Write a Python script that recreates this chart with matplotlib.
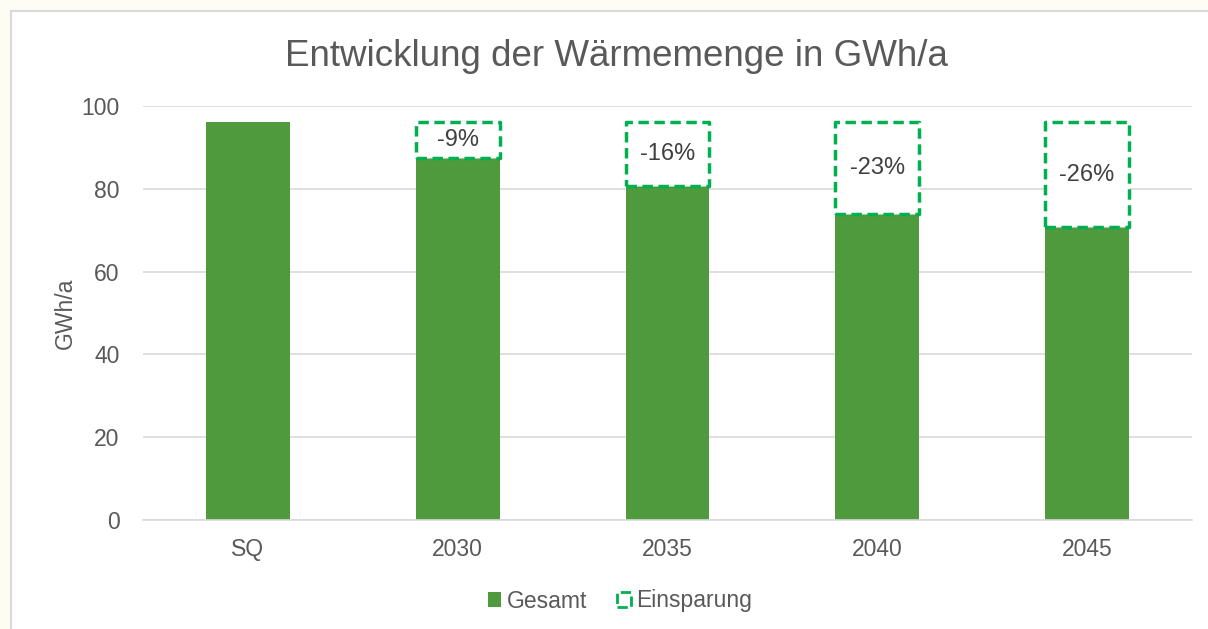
import numpy as np
import matplotlib.pyplot as plt
from matplotlib.patches import Patch, Rectangle

plt.rcParams['font.family'] = ['Liberation Sans', 'DejaVu Sans']

# Daten ──────────────────────────────────────────────
kategorien = ["SQ", "2030", "2035", "2040", "2045"]
gesamt     = [96.1, 87.4, 80.7, 73.9, 70.8]
einsparung = [0.0, 8.7, 15.4, 22.2, 25.3]
prozente   = ["", "-9%", "-16%", "-23%", "-26%"]

gruen  = "#4e9a3c"
strich = "#00b050"
grau   = "#595959"

fig = plt.figure(figsize=(12.08, 6.29), dpi=100, facecolor="#fdfdf4")
# weisser Rahmen
fig.patches.append(Rectangle((11/1208, -0.01), 1.01 - 11/1208, 1.01 - 11/629,
                             transform=fig.transFigure, facecolor="white",
                             edgecolor="#d9d9d9", lw=1.5, zorder=-10))

ax = fig.add_axes([143/1208, 1 - 520/629, (1192 - 143)/1208, (520 - 106)/629])
ax.set_facecolor("none")

x = np.arange(len(kategorien))
w = 0.4
ax.bar(x, gesamt, w, color=gruen, zorder=2, label="Gesamt")
for xi, g, e, p in zip(x, gesamt, einsparung, prozente):
    if e <= 0:
        continue
    ax.add_patch(Rectangle((xi - w/2, g), w, e, facecolor="white",
                           edgecolor=strich, lw=2.5, ls=(0, (3, 1.6)),
                           zorder=3, joinstyle="round"))
    ax.text(xi, g + e/2, p, ha="center", va="center", fontsize=17,
            color="#404040", zorder=4)

ax.set_xlim(-0.5, len(kategorien) - 0.5)
ax.set_ylim(0, 100)
ax.set_yticks(np.arange(0, 101, 20))
ax.set_xticks(x)
ax.set_xticklabels(kategorien)
ax.tick_params(axis="both", length=0, labelsize=16.5, colors=grau)
ax.tick_params(axis="x", pad=13)
ax.tick_params(axis="y", pad=17)
ax.grid(True, axis="y", color="#d9d9d9", lw=1.2, zorder=0)
for s in ["top", "right", "left"]:
    ax.spines[s].set_visible(False)
ax.spines["bottom"].set_color("#d9d9d9")
ax.spines["bottom"].set_linewidth(1.2)

ax.set_ylabel("GWh/a", fontsize=16.5, color=grau, labelpad=3)
fig.text(616/1208, 1 - 56/629, "Entwicklung der Wärmemenge in GWh/a",
         ha="center", va="center", fontsize=26.5, color=grau)

handles = [Patch(facecolor=gruen, label="Gesamt"),
           Patch(facecolor="white", edgecolor=strich, lw=2, ls="--",
                 label="Einsparung")]
fig.legend(handles=handles, loc="center", bbox_to_anchor=(620/1208, 1 - 601/629),
           ncol=2, frameon=False, fontsize=16.5, handlelength=0.6,
           handleheight=0.6, handletextpad=0.25, columnspacing=1.3,
           labelcolor=grau)

fig.savefig("out.png", dpi=100, facecolor=fig.get_facecolor())
